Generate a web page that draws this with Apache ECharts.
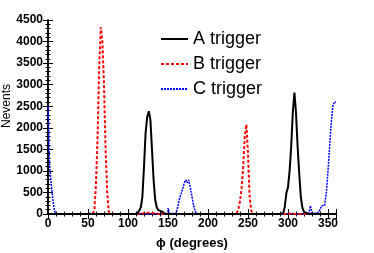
<!DOCTYPE html>
<html><head><meta charset="utf-8">
<script src="https://cdn.jsdelivr.net/npm/echarts@6/dist/echarts.min.js"></script>
<style>html,body{margin:0;padding:0;background:#fff}#c{width:374px;height:253px}</style>
</head><body><div id="c"></div>
<script>
// bin left edges in degrees (2-degree bins)
const binEdges = [];
for (let d = 0; d < 360; d += 2) binEdges.push(d);

const seriesNames = ['A trigger', 'B trigger', 'C trigger'];
const xTickLabels = ['0','50','100','150','200','250','300','350'];
const yTickLabels = ['0','500','1000','1500','2000','2500','3000','3500','4000','4500'];

// A trigger counts per 2-degree bin
const aTrigger = [
  0,0,0,0,0,0,0,0,0,0,
  0,0,0,0,0,0,0,0,0,0,
  0,0,0,0,0,0,0,0,0,0,
  0,0,0,0,0,0,0,0,0,0,
  0,0,0,0,0,0,0,0,0,0,
  0,0,0,0,0,10,30,80,150,400,
  1100,1880,2250,2385,2190,1490,790,330,150,90,
  60,20,10,0,0,0,0,0,0,0,
  0,0,0,0,0,0,0,0,0,0,
  0,0,0,0,0,0,0,0,0,0,
  0,0,0,0,0,0,0,0,0,0,
  0,0,0,0,0,0,0,0,0,0,
  0,0,0,0,0,0,0,0,0,0,
  0,0,0,0,0,0,0,0,0,0,
  0,0,0,0,0,10,20,60,170,490,
  620,1000,1570,2350,2815,2350,1570,950,400,140,
  50,20,10,0,0,0,0,0,0,0,
  0,0,0,0,0,0,0,0,0,0
];
// B trigger counts per 2-degree bin
const bTrigger = [
  0,0,0,0,0,0,0,0,0,0,
  0,0,0,0,0,0,0,0,0,0,
  0,0,0,0,0,0,0,0,20,100,
  700,1800,3400,4330,4000,3000,1500,500,50,10,
  0,0,0,0,0,0,0,0,0,0,
  0,0,0,0,0,0,10,10,20,20,
  20,30,20,30,20,20,10,10,0,0,
  0,0,0,0,0,0,0,0,0,0,
  0,0,0,0,0,0,0,0,0,0,
  0,0,0,0,0,0,0,0,0,0,
  0,0,0,0,0,0,0,0,0,0,
  0,0,0,0,0,0,0,20,50,120,
  300,600,1100,1800,2075,1400,400,80,10,0,
  0,0,0,0,0,0,0,0,0,0,
  0,0,0,0,0,0,0,0,0,0,
  10,10,0,0,0,0,0,0,0,0,
  0,0,0,0,0,0,0,0,0,0,
  0,0,0,0,0,0,0,0,0,0
];
// C trigger counts per 2-degree bin
const cTrigger = [
  2500,1100,700,350,80,10,0,0,0,0,
  0,0,0,0,0,0,0,0,0,0,
  0,0,0,0,0,10,20,10,10,0,
  0,0,0,0,0,0,0,0,0,0,
  0,0,0,0,0,0,0,0,0,0,
  0,0,0,0,0,0,0,0,0,0,
  0,0,0,0,0,0,0,0,0,0,
  0,0,0,0,0,140,10,10,10,20,
  60,150,330,450,560,700,790,720,790,600,
  400,200,60,10,0,0,0,0,0,0,
  0,0,0,0,0,0,0,0,0,0,
  0,0,0,0,0,0,0,0,0,0,
  0,0,0,0,0,0,0,0,0,0,
  0,0,0,0,0,0,0,0,0,0,
  0,0,0,0,0,0,0,0,0,0,
  0,0,0,0,0,0,0,0,0,0,
  0,0,10,20,190,20,20,30,40,60,
  100,190,200,250,500,1000,1550,2100,2500,2600
];

function toSteps(vals) {
  const pts = binEdges.map((d, i) => [d, vals[i]]);
  pts.push([360, vals[vals.length - 1]]);
  return pts;
}

const FONT = 'Liberation Sans, Arial, Helvetica, sans-serif';
const chart = echarts.init(document.getElementById('c'), null, {renderer: 'canvas'});
const frameLine = {show: true, lineStyle: {color: '#000', width: 1.5}};
const tickIn = {show: true, inside: true, length: 5, lineStyle: {color: '#000', width: 1}};
const minorIn = {show: true, length: 2.5, lineStyle: {color: '#000', width: 1}};

chart.setOption({
  animation: false,
  backgroundColor: '#fff',
  grid: {left: 48, right: 38, top: 20, bottom: 39, containLabel: false, outerBoundsMode: 'none'},
  legend: {
    orient: 'vertical', left: 155, top: 25,
    itemWidth: 27, itemHeight: 14, itemGap: 7,
    data: seriesNames,
    itemStyle: {opacity: 0},
    textStyle: {fontFamily: FONT, fontSize: 18, color: '#000'}
  },
  xAxis: [{
    type: 'value', min: 0, max: 360, interval: 50,
    axisLine: frameLine, axisTick: tickIn,
    minorTick: Object.assign({splitNumber: 5}, minorIn),
    splitLine: {show: false},
    axisLabel: {
      fontFamily: FONT, fontSize: 12, fontWeight: 'bold', color: '#000', margin: 4,
      showMaxLabel: false,
      formatter: v => { const i = xTickLabels.indexOf(String(v)); return i >= 0 ? xTickLabels[i] : ''; }
    },
    name: 'ϕ (degrees)', nameLocation: 'middle', nameGap: 23,
    nameTextStyle: {fontFamily: FONT, fontSize: 13, fontWeight: 'bold', color: '#000'}
  }, {
    type: 'value', min: 0, max: 360, interval: 50, position: 'top',
    axisLine: frameLine, axisTick: tickIn,
    minorTick: Object.assign({splitNumber: 5}, minorIn),
    splitLine: {show: false}, axisLabel: {show: false}
  }],
  yAxis: [{
    type: 'value', min: 0, max: 4500, interval: 500,
    axisLine: frameLine, axisTick: tickIn,
    minorTick: Object.assign({splitNumber: 5}, minorIn),
    splitLine: {show: false},
    axisLabel: {
      fontFamily: FONT, fontSize: 12, fontWeight: 'bold', color: '#000', margin: 5,
      formatter: v => { const i = yTickLabels.indexOf(String(v)); return i >= 0 ? yTickLabels[i] : ''; }
    }
  }, {
    type: 'value', min: 0, max: 4500, interval: 500, position: 'right',
    axisLine: frameLine, axisTick: tickIn,
    minorTick: Object.assign({splitNumber: 5}, minorIn),
    splitLine: {show: false}, axisLabel: {show: false}
  }],
  graphic: [{
    type: 'text', x: 7, y: 106, rotation: Math.PI / 2,
    style: {text: 'Nevents', fontFamily: FONT, fontSize: 12, fill: '#000', align: 'center', verticalAlign: 'middle'}
  }],
  series: [
    {name: seriesNames[2], type: 'line', step: 'end', symbol: 'none', data: toSteps(cTrigger),
     color: '#0000ff', lineStyle: {color: '#0000ff', width: 1.5, type: [2, 1]}, z: 2},
    {name: seriesNames[1], type: 'line', step: 'end', symbol: 'none', data: toSteps(bTrigger),
     color: '#ff0000', lineStyle: {color: '#ff0000', width: 2, type: [3, 2]}, z: 3},
    {name: seriesNames[0], type: 'line', step: 'end', symbol: 'none', data: toSteps(aTrigger),
     color: '#000', lineStyle: {color: '#000', width: 2, type: 'solid'}, z: 4}
  ]
});
</script></body></html>
